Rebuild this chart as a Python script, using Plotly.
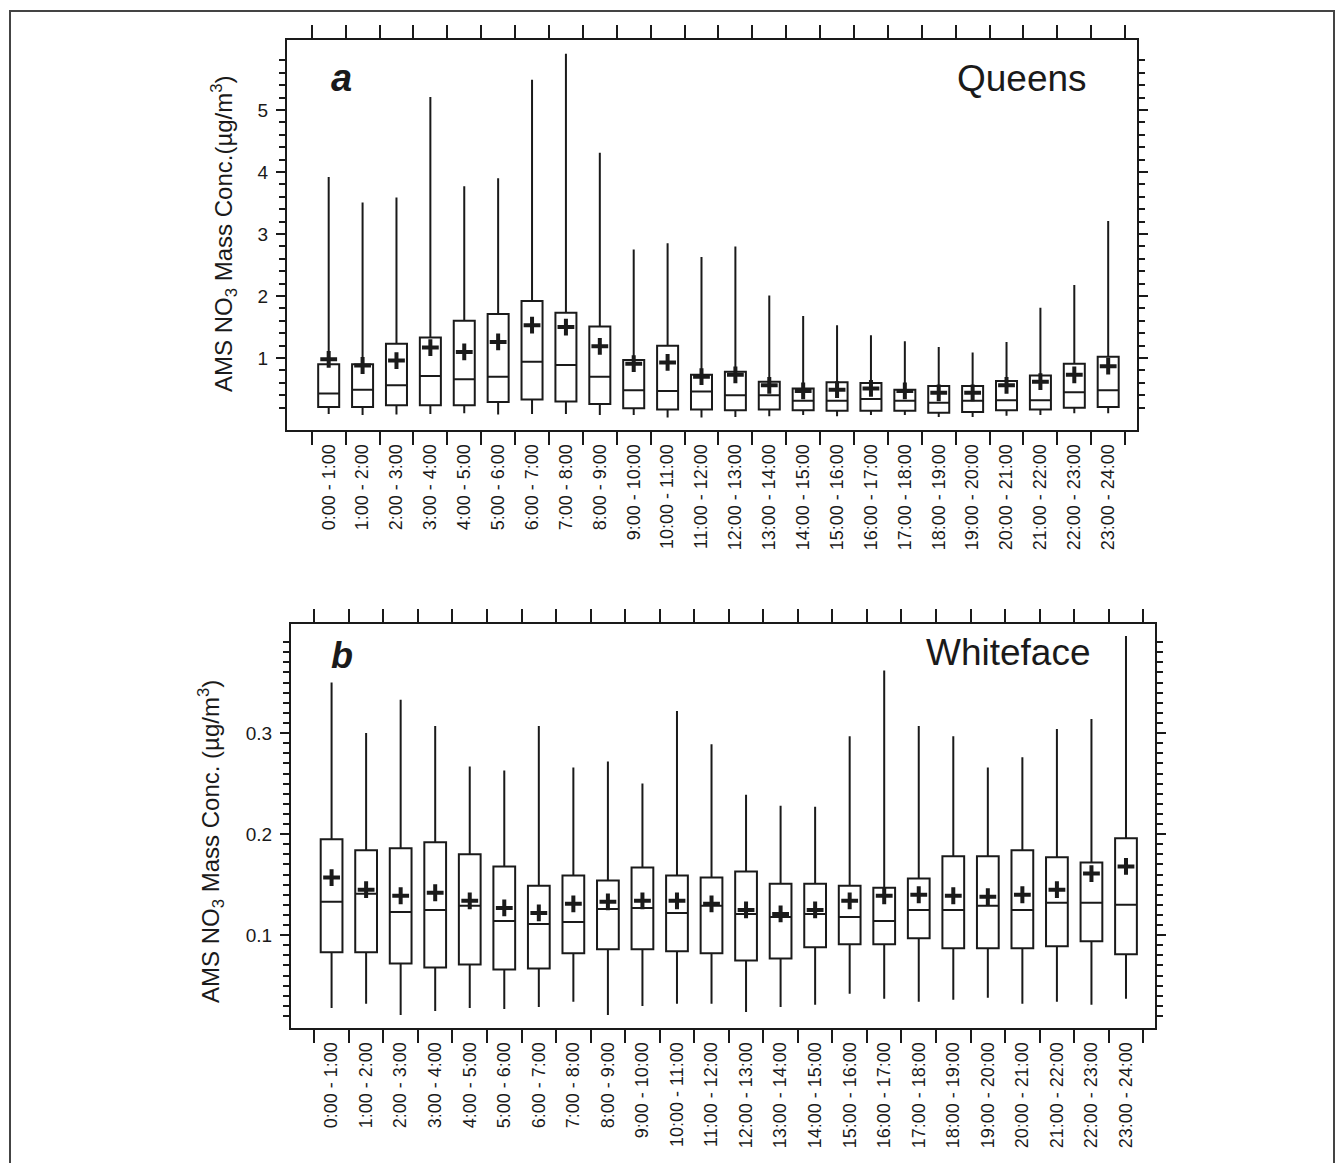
import plotly.graph_objects as go

# ---------------- data ----------------
hours = ["0:00 - 1:00", "1:00 - 2:00", "2:00 - 3:00", "3:00 - 4:00", "4:00 - 5:00",
         "5:00 - 6:00", "6:00 - 7:00", "7:00 - 8:00", "8:00 - 9:00", "9:00 - 10:00",
         "10:00 - 11:00", "11:00 - 12:00", "12:00 - 13:00", "13:00 - 14:00",
         "14:00 - 15:00", "15:00 - 16:00", "16:00 - 17:00", "17:00 - 18:00",
         "18:00 - 19:00", "19:00 - 20:00", "20:00 - 21:00", "21:00 - 22:00",
         "22:00 - 23:00", "23:00 - 24:00"]
hour_pos = [0.5, 1.5, 2.5, 3.5, 4.5, 5.5, 6.5, 7.5, 8.5, 9.5, 10.5, 11.5,
            12.5, 13.5, 14.5, 15.5, 16.5, 17.5, 18.5, 19.5, 20.5, 21.5, 22.5, 23.5]
hour_edges = list(range(25))

# Queens (panel a)
queens_hi = [3.92, 3.51, 3.59, 5.21, 3.77, 3.90, 5.49, 5.91, 4.31, 2.75, 2.85, 2.63,
             2.80, 2.01, 1.68, 1.53, 1.37, 1.27, 1.18, 1.09, 1.26, 1.81, 2.18, 3.21]
queens_q3 = [0.90, 0.90, 1.23, 1.33, 1.60, 1.71, 1.92, 1.73, 1.51, 0.97, 1.20, 0.73,
             0.78, 0.62, 0.51, 0.61, 0.60, 0.49, 0.55, 0.55, 0.63, 0.72, 0.91, 1.02]
queens_med = [0.43, 0.49, 0.56, 0.71, 0.66, 0.70, 0.94, 0.89, 0.70, 0.48, 0.47, 0.46,
              0.40, 0.40, 0.31, 0.31, 0.34, 0.31, 0.28, 0.31, 0.32, 0.32, 0.45, 0.48]
queens_q1 = [0.21, 0.21, 0.24, 0.24, 0.24, 0.29, 0.33, 0.30, 0.26, 0.19, 0.17, 0.17,
             0.16, 0.17, 0.16, 0.15, 0.15, 0.15, 0.12, 0.13, 0.16, 0.17, 0.20, 0.21]
queens_lo = [0.10, 0.08, 0.09, 0.10, 0.11, 0.09, 0.10, 0.10, 0.08, 0.08, 0.04, 0.04,
             0.05, 0.06, 0.08, 0.06, 0.08, 0.08, 0.05, 0.05, 0.07, 0.08, 0.11, 0.11]
queens_mean = [0.98, 0.88, 0.96, 1.17, 1.10, 1.26, 1.53, 1.50, 1.19, 0.91, 0.93, 0.70,
               0.73, 0.56, 0.47, 0.49, 0.51, 0.47, 0.44, 0.44, 0.56, 0.62, 0.73, 0.87]

# Whiteface (panel b)
wf_hi = [0.350, 0.300, 0.333, 0.307, 0.267, 0.263, 0.307, 0.266, 0.272, 0.250, 0.322, 0.289,
         0.239, 0.228, 0.227, 0.297, 0.362, 0.307, 0.297, 0.266, 0.276, 0.304, 0.314, 0.396]
wf_q3 = [0.195, 0.184, 0.186, 0.192, 0.180, 0.168, 0.149, 0.159, 0.154, 0.167, 0.159, 0.157,
         0.163, 0.151, 0.151, 0.149, 0.147, 0.156, 0.178, 0.178, 0.184, 0.177, 0.172, 0.196]
wf_med = [0.133, 0.141, 0.123, 0.125, 0.129, 0.114, 0.111, 0.113, 0.126, 0.127, 0.122, 0.129,
          0.121, 0.118, 0.121, 0.118, 0.114, 0.125, 0.125, 0.129, 0.125, 0.132, 0.132, 0.130]
wf_q1 = [0.083, 0.083, 0.072, 0.068, 0.071, 0.066, 0.067, 0.082, 0.086, 0.086, 0.084, 0.082,
         0.075, 0.077, 0.088, 0.091, 0.091, 0.097, 0.087, 0.087, 0.087, 0.089, 0.094, 0.081]
wf_lo = [0.028, 0.032, 0.021, 0.025, 0.028, 0.027, 0.029, 0.034, 0.021, 0.030, 0.032, 0.032,
         0.024, 0.029, 0.031, 0.042, 0.037, 0.034, 0.036, 0.038, 0.032, 0.034, 0.031, 0.037]
wf_mean = [0.157, 0.145, 0.139, 0.142, 0.134, 0.127, 0.122, 0.131, 0.133, 0.134, 0.134, 0.131,
           0.125, 0.121, 0.125, 0.134, 0.139, 0.140, 0.139, 0.138, 0.140, 0.145, 0.161, 0.168]

queens_yticks = [1, 2, 3, 4, 5]
queens_yminor = [0.2, 0.4, 0.6, 0.8, 1.2, 1.4, 1.6, 1.8, 2.2, 2.4, 2.6, 2.8, 3.2, 3.4, 3.6,
                 3.8, 4.2, 4.4, 4.6, 4.8, 5.2, 5.4, 5.6, 5.8]
wf_yticks = [0.1, 0.2, 0.3]
wf_yticktext = ["0.1", "0.2", "0.3"]
wf_yminor = [v / 100 for v in range(2, 40) if v % 10 != 0]

# ---------------- styling ----------------
W, H = 1342, 1163
INK = "#1a1a1a"
FONT = "Liberation Sans, Arial, Helvetica, sans-serif"


def px(x):
    return x / W


def py(y):
    return 1 - y / H


fig = go.Figure()

box_common = dict(fillcolor="white", line=dict(color=INK, width=2), whiskerwidth=0,
                  boxpoints=False, showlegend=False, hoverinfo="skip")

fig.add_trace(go.Box(x=hour_pos, q1=queens_q1, median=queens_med, q3=queens_q3,
                     lowerfence=queens_lo, upperfence=queens_hi, width=0.62,
                     xaxis="x", yaxis="y", **box_common))
fig.add_trace(go.Scatter(x=hour_pos, y=queens_mean, mode="markers", showlegend=False,
                         marker=dict(symbol="cross-thin", size=12,
                                     line=dict(color=INK, width=4)),
                         xaxis="x", yaxis="y"))

fig.add_trace(go.Box(x=hour_pos, q1=wf_q1, median=wf_med, q3=wf_q3,
                     lowerfence=wf_lo, upperfence=wf_hi, width=0.63,
                     xaxis="x2", yaxis="y2", **box_common))
fig.add_trace(go.Scatter(x=hour_pos, y=wf_mean, mode="markers", showlegend=False,
                         marker=dict(symbol="cross-thin", size=12,
                                     line=dict(color=INK, width=4)),
                         xaxis="x2", yaxis="y2"))


def xaxis_cfg(x0, x1, rng, anchor):
    return dict(domain=[px(x0), px(x1)], range=rng, anchor=anchor,
                tickmode="array", tickvals=hour_pos, ticktext=hours, tickangle=-90,
                ticks="outside", ticklen=5, tickcolor="rgba(0,0,0,0)",
                minor=dict(tickmode="array", tickvals=hour_edges, ticks="outside",
                           ticklen=13, tickwidth=2, tickcolor=INK, showgrid=False),
                showline=True, linewidth=2, linecolor=INK, mirror="ticks",
                showgrid=False, zeroline=False, automargin=False,
                tickfont=dict(family=FONT, size=18, color=INK))


def yaxis_cfg(y0, y1, rng, anchor, tv, tt, minor_vals):
    return dict(domain=[py(y1), py(y0)], range=rng, anchor=anchor,
                tickmode="array", tickvals=tv, ticktext=tt,
                ticks="outside", ticklen=9, tickwidth=2, tickcolor=INK,
                ticklabelstandoff=4,
                minor=dict(tickmode="array", tickvals=minor_vals, ticks="outside",
                           ticklen=6, tickwidth=2, tickcolor=INK, showgrid=False),
                showline=True, linewidth=2, linecolor=INK, mirror="ticks",
                showgrid=False, zeroline=False, automargin=False,
                tickfont=dict(family=FONT, size=19, color=INK))


fig.update_layout(
    width=W, height=H, margin=dict(l=0, r=0, t=0, b=0),
    paper_bgcolor="white", plot_bgcolor="white",
    font=dict(family=FONT, color=INK),
    xaxis=xaxis_cfg(287, 1137, [-0.73, 24.35], "y"),
    yaxis=yaxis_cfg(40, 430, [-0.16, 6.13], "x", queens_yticks,
                    [str(v) for v in queens_yticks], queens_yminor),
    xaxis2=xaxis_cfg(291, 1155, [-0.675, 24.34], "y2"),
    yaxis2=yaxis_cfg(624, 1028, [0.0081, 0.408], "x2", wf_yticks, wf_yticktext, wf_yminor),
)

annots = [
    dict(text="<b><i>a</i></b>", x=px(329), y=py(78), xanchor="left", yanchor="middle",
         font=dict(size=38)),
    dict(text="Queens", x=px(1089), y=py(79), xanchor="right", yanchor="middle",
         font=dict(size=37)),
    dict(text="<b><i>b</i></b>", x=px(329), y=py(655), xanchor="left", yanchor="middle",
         font=dict(size=36)),
    dict(text="Whiteface", x=px(1093), y=py(652), xanchor="right", yanchor="middle",
         font=dict(size=37)),
    dict(text="AMS NO<sub>3</sub> Mass Conc.(µg/m<sup>3</sup>)", x=px(224), y=py(234),
         xanchor="center", yanchor="middle", textangle=-90, font=dict(size=24)),
    dict(text="AMS NO<sub>3</sub> Mass Conc. (µg/m<sup>3</sup>)", x=px(211), y=py(842),
         xanchor="center", yanchor="middle", textangle=-90, font=dict(size=24)),
]
for a in annots:
    a.update(xref="paper", yref="paper", showarrow=False)
    a["font"].update(family=FONT, color=INK)
fig.update_layout(annotations=annots)

# outer frame of the figure
fig.add_shape(type="path", xref="paper", yref="paper",
              path=f"M {px(10)},{py(1175)} L {px(10)},{py(11)} L {px(1334)},{py(11)} L {px(1334)},{py(1175)}",
              line=dict(color="#444444", width=2))

fig.write_html("out.html", config={"displayModeBar": False},
               post_script="document.body.style.margin='0px';")
